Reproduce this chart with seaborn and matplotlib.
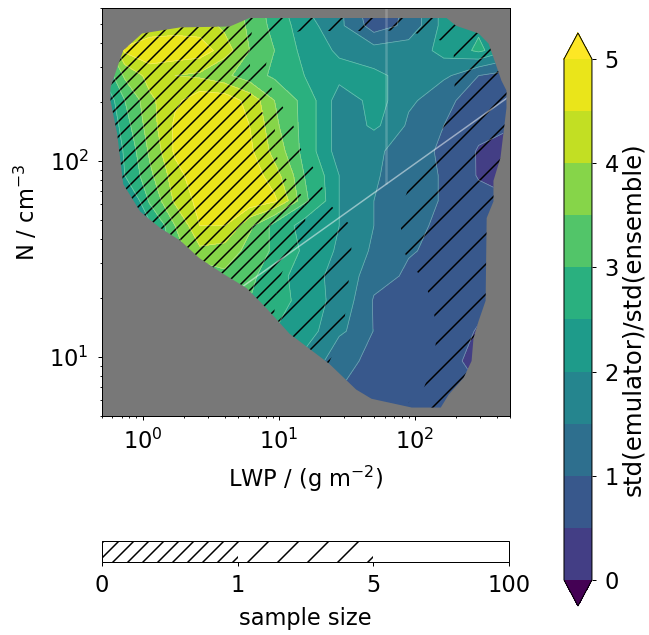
import numpy as np
import matplotlib
matplotlib.use("Agg")
import matplotlib.pyplot as plt
import seaborn as sns
from matplotlib.colors import ListedColormap
from matplotlib.patches import Polygon

# grid of the emulator comparison (LWP columns, N rows from top to bottom)
lwp = [0.5, 0.74, 1.13, 1.73, 2.63, 4.0, 6.1, 9.3, 15.4, 27.8, 50, 90, 163, 294, 495]
n_drop = [634, 489, 365, 272, 203, 151, 112, 84, 62.5, 46.6, 34.7, 25.8, 19.3, 13.5, 9.5, 6.7, 4.92]

std_ratio = [
    [3.2, 3.8, 4.0, 4.0, 4.0, 3.8, 3.3, 2.7, 2.0, 1.6, 0.4, 1.2, 2.2, 2.4, 2.0],
    [3.3, 3.9, 4.1, 4.2, 4.2, 3.9, 3.4, 2.8, 2.2, 1.6, 0.7, 1.2, 2.2, 2.4, 2.0],
    [3.0, 4.6, 4.9, 4.9, 4.8, 4.2, 3.5, 3.0, 2.3, 1.9, 1.7, 1.7, 2.2, 2.6, 2.0],
    [2.5, 3.6, 4.2, 4.0, 3.9, 3.6, 3.2, 2.9, 2.5, 2.2, 2.1, 1.8, 1.6, 1.0, 0.8],
    [2.0, 3.0, 3.9, 4.4, 4.8, 4.8, 4.3, 3.5, 2.8, 1.7, 2.2, 1.6, 1.1, 0.75, 0.7],
    [1.8, 2.8, 3.8, 4.6, 5.0, 5.0, 4.5, 3.6, 2.8, 1.7, 2.1, 1.4, 1.0, 0.7, 0.55],
    [1.6, 2.6, 3.6, 4.6, 5.0, 5.0, 4.6, 3.8, 2.8, 1.7, 1.6, 1.2, 0.9, 0.45, 0.3],
    [1.3, 2.5, 3.4, 4.3, 4.9, 5.0, 4.8, 4.2, 3.0, 2.0, 1.55, 1.2, 0.95, 0.45, 0.3],
    [1.0, 1.8, 3.1, 4.1, 4.7, 4.9, 4.9, 4.6, 3.1, 2.0, 1.5, 1.2, 0.95, 0.7, 0.55],
    [0.8, 1.5, 2.4, 3.5, 4.5, 4.5, 3.6, 2.8, 2.3, 2.0, 1.5, 1.15, 0.85, 0.75, 0.7],
    [0.8, 1.2, 2.2, 3.3, 3.9, 3.8, 3.3, 2.9, 2.4, 1.9, 1.4, 1.05, 0.8, 0.75, 0.7],
    [0.8, 1.0, 1.6, 2.4, 3.1, 3.4, 3.1, 2.7, 2.2, 1.8, 1.2, 0.9, 0.8, 0.75, 0.7],
    [0.8, 0.9, 1.3, 1.9, 2.5, 2.9, 3.0, 2.75, 2.25, 1.8, 0.95, 0.8, 0.75, 0.7, 0.7],
    [0.8, 0.9, 1.2, 1.6, 2.1, 2.5, 2.6, 2.5, 2.2, 1.6, 0.98, 0.8, 0.75, 0.45, 0.7],
    [0.8, 0.9, 1.1, 1.4, 1.8, 2.1, 2.2, 2.2, 1.9, 1.1, 0.9, 0.8, 0.75, 0.2, 0.7],
    [0.8, 0.9, 1.0, 1.2, 1.5, 1.7, 1.8, 1.7, 1.4, 1.0, 0.85, 0.75, 0.75, 0.55, 0.7],
    [0.8, 0.9, 1.0, 1.1, 1.3, 1.5, 1.6, 1.5, 1.2, 0.9, 0.8, 0.75, 0.75, 0.7, 0.7],
]

sample_size = [
    [0.3, 0.3, 0.3, 0.3, 0.3, 0.4, 0.6, 2.0, 3.0, 3.0, 3.0, 3.0, 3.0, 2.0, 2.0],
    [0.3, 0.3, 0.3, 0.3, 0.4, 0.5, 0.8, 3.0, 4.0, 4.0, 4.0, 4.0, 3.0, 1.5, 1.2],
    [0.3, 0.3, 0.3, 0.4, 0.5, 0.6, 0.9, 7.0, 9.0, 9.0, 9.0, 8.0, 6.0, 1.5, 1.0],
    [0.3, 0.3, 0.3, 0.4, 0.5, 0.6, 0.9, 8.0, 12, 12, 12, 10, 6.0, 2.0, 1.2],
    [0.3, 0.3, 0.3, 0.4, 0.5, 0.6, 0.8, 4.0, 12, 15, 15, 12, 6.0, 2.0, 1.5],
    [0.3, 0.3, 0.3, 0.4, 0.5, 0.6, 0.7, 0.95, 8.0, 15, 15, 10, 5.0, 2.0, 1.5],
    [0.3, 0.3, 0.3, 0.4, 0.5, 0.6, 0.7, 0.9, 5.5, 15, 15, 8.0, 3.0, 2.0, 1.2],
    [0.3, 0.3, 0.3, 0.4, 0.5, 0.6, 0.7, 0.85, 1.5, 12, 12, 6.0, 2.5, 2.0, 1.5],
    [0.3, 0.3, 0.3, 0.4, 0.5, 0.6, 0.7, 0.8, 0.95, 8.0, 10, 4.0, 2.0, 1.5, 1.5],
    [0.3, 0.3, 0.3, 0.4, 0.5, 0.6, 0.7, 0.8, 0.95, 3.0, 10, 3.0, 2.0, 1.5, 1.5],
    [0.3, 0.3, 0.3, 0.4, 0.5, 0.6, 0.7, 0.8, 1.2, 3.0, 10, 4.0, 2.0, 1.5, 1.5],
    [0.3, 0.3, 0.3, 0.4, 0.5, 0.6, 0.7, 0.9, 1.5, 3.5, 10, 6.0, 2.5, 1.5, 1.2],
    [0.3, 0.3, 0.3, 0.4, 0.5, 0.6, 0.8, 1.0, 2.0, 4.0, 10, 8.0, 3.0, 1.5, 1.5],
    [0.3, 0.3, 0.3, 0.4, 0.5, 0.6, 0.8, 1.0, 2.5, 4.5, 10, 8.0, 4.0, 2.0, 1.5],
    [0.3, 0.3, 0.3, 0.4, 0.5, 0.6, 0.8, 1.2, 3.0, 6.0, 10, 7.0, 4.0, 2.0, 1.5],
    [0.3, 0.3, 0.3, 0.4, 0.5, 0.6, 0.8, 1.5, 3.0, 7.0, 10, 6.0, 3.0, 2.0, 1.5],
    [0.3, 0.3, 0.3, 0.4, 0.5, 0.6, 0.8, 1.5, 3.0, 6.0, 8.0, 4.0, 2.0, 1.5, 1.5],
]

# outline of the sampled (LWP, N) space
outline_lwp = [0.99, 1.88, 4.36, 6.1, 171, 200, 294, 348, 378, 433, 471, 471, 426, 378,
               378, 337, 331, 294, 270, 261, 228, 177, 155, 95, 48, 37, 23.5, 12, 8.1,
               5.8, 3.9, 2.6, 1.9, 1.34, 0.96, 0.72, 0.65, 0.58, 0.58, 0.65, 0.72]
outline_n = [446, 479, 484, 535, 535, 489, 446, 396, 336, 256, 228, 186, 104, 79,
             62, 51, 19.3, 15.2, 12.5, 9.5, 7.8, 6.4, 5.5, 5.5, 6.1, 6.8, 9.2, 13.1, 17.7,
             22.4, 26.5, 31.9, 39, 45.5, 55, 76, 137, 203, 236, 299, 365]

# regime boundaries
vert_lwp = [61, 61]
vert_n = [76, 700]
diag_lwp = [3, 700]
diag_n = [17, 253]

ratio_levels = [0, 0.5, 1, 1.5, 2, 2.5, 3, 3.5, 4, 4.5, 5]
sample_levels = [0, 1, 5, 100]

sns.set_style("ticks")
plt.rcParams.update({
    "font.family": ["DejaVu Sans"],
    "font.size": 9,
    "text.color": "black",
    "axes.labelcolor": "black",
    "axes.edgecolor": "black",
    "axes.linewidth": 0.4,
    "xtick.color": "black",
    "ytick.color": "black",
    "xtick.major.size": 1.6,
    "ytick.major.size": 1.6,
    "xtick.minor.size": 0.9,
    "ytick.minor.size": 0.9,
    "xtick.major.width": 0.4,
    "ytick.major.width": 0.4,
    "xtick.minor.width": 0.35,
    "ytick.minor.width": 0.35,
    "patch.edgecolor": "black",
    "patch.force_edgecolor": False,
    "hatch.color": "black",
    "hatch.linewidth": 0.6,
})

dpi = 180
fig = plt.figure(figsize=(649 / dpi, 635 / dpi), dpi=dpi)
ax = fig.add_axes([0.1567, 0.3454, 0.6291, 0.6416])
cax = fig.add_axes([0.869, 0.0457, 0.0431, 0.9024])
hax = fig.add_axes([0.1567, 0.1154, 0.628, 0.0326])

ax.set_facecolor("#787878")
ax.set_xscale("log")
ax.set_yscale("log")

cmap = ListedColormap(plt.get_cmap("viridis")(
    [0.18, 0.27, 0.36, 0.455, 0.545, 0.636, 0.727, 0.818, 0.909, 0.965]))
cmap.set_under("#440154")
cmap.set_over("#fde725")

X, Y = np.meshgrid(lwp, n_drop)
Z = np.array(std_ratio)
S = np.array(sample_size)

region = Polygon(np.column_stack([outline_lwp, outline_n]), closed=True,
                 transform=ax.transData, facecolor="none", edgecolor="none")

cf = ax.contourf(X, Y, Z, levels=ratio_levels, cmap=cmap, extend="both")
cl = ax.contour(X, Y, Z, levels=ratio_levels, colors="white", linewidths=0.3, alpha=0.35)
hf = ax.contourf(X, Y, S, levels=sample_levels, colors="none",
                 hatches=["////", "//", None])
hf.set_edgecolor("black")
hf.set_linewidth(0)
for c in (cf, cl, hf):
    c.set_clip_path(region)

sns.lineplot(x=vert_lwp, y=vert_n, ax=ax, color="white", alpha=0.5, linewidth=0.6)
sns.lineplot(x=diag_lwp, y=diag_n, ax=ax, color="white", alpha=0.5, linewidth=0.6)
for ln in ax.lines:
    ln.set_clip_path(region)

ax.set_xlim(0.5, 500)
ax.set_ylim(5, 600)
ax.set_xlabel("LWP / (g m$^{-2}$)")
ax.set_ylabel("N / cm$^{-3}$")

cb = fig.colorbar(cf, cax=cax, ticks=[0, 1, 2, 3, 4, 5])
cb.set_label("std(emulator)/std(ensemble)", labelpad=1, fontsize=9.8)
cb.outline.set_linewidth(0.4)

hb = fig.colorbar(hf, cax=hax, orientation="horizontal")
for p in hb.solids_patches:
    p.set_edgecolor("black")
    p.set_linewidth(0)
hb.set_label("sample size")
hb.outline.set_linewidth(0.4)

fig.savefig("out.png", dpi=dpi, facecolor="white")
